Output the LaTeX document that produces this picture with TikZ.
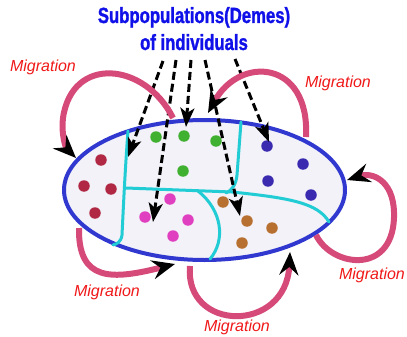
\documentclass[tikz,border=0pt]{standalone}
\usepackage{fontspec}
\setmainfont{Liberation Sans}
\newfontfamily\titlefont[FakeStretch=0.76,FakeBold=1.2]{Liberation Sans Bold}
\usetikzlibrary{arrows.meta}
\definecolor{deme}{HTML}{F2F2F8}
\definecolor{rim}{HTML}{3038D0}
\definecolor{wall}{HTML}{22CCD4}
\definecolor{migr}{HTML}{D64A7A}
\definecolor{migtext}{HTML}{F01818}
\definecolor{titleblue}{HTML}{1010E8}
\definecolor{dred}{HTML}{B02844}
\definecolor{dgreen}{HTML}{40B030}
\definecolor{dblue}{HTML}{3A2AB0}
\definecolor{dpink}{HTML}{E040C0}
\definecolor{dbrown}{HTML}{B87030}
\tikzset{
  dot/.style={circle, fill=#1, draw=none, inner sep=0pt, minimum size=11.5pt},
  wallline/.style={wall, line width=3pt, line cap=round},
  pointer/.style={black, line width=3pt, dash pattern=on 8pt off 4pt,
    -{Stealth[length=19pt,width=14pt,inset=5pt]}},
  migration/.style={migr, line width=6pt,
    -{Stealth[length=23pt,width=19pt,inset=8pt,color=black]}},
  miglabel/.style={text=migtext, font=\itshape\fontsize{16}{19}\selectfont, inner sep=0pt},
  title/.style={text=titleblue, font=\titlefont\fontsize{22}{26}\selectfont, inner sep=0pt, anchor=base}
}
\begin{document}
\begin{tikzpicture}[x=1pt, y=-1pt]
\useasboundingbox (0,0) rectangle (407,337);

% population ellipse
\draw[rim, fill=deme, line width=4pt] (204.5,190) ellipse [x radius=140.5pt, y radius=70pt];

% boundaries between demes
\draw[wallline] (128,131) .. controls (125,170) and (123,215) .. (122,235) .. controls (121,242) and (117,244) .. (113,245);
\draw[wallline] (126,188) -- (232,192) .. controls (290,198) and (318,203) .. (329,222);
\draw[wallline] (241,122) -- (237,175) .. controls (236,185) and (232,190) .. (226,193);
\draw[wallline] (198,191) .. controls (222,210) and (226,240) .. (210,259);

% individuals
\node[dot=dred] (r1) at (101,160) {};
\node[dot=dred] (r2) at (84,186) {};
\node[dot=dred] (r3) at (111,189) {};
\node[dot=dred] (r4) at (95,213) {};
\node[dot=dgreen] (g1) at (156,137) {};
\node[dot=dgreen] (g2) at (184,136) {};
\node[dot=dgreen] (g3) at (216,141) {};
\node[dot=dgreen] (g4) at (183,171) {};
\node[dot=dblue] (b1) at (267,146) {};
\node[dot=dblue] (b2) at (303,164) {};
\node[dot=dblue] (b3) at (268,181) {};
\node[dot=dblue] (b4) at (311,195) {};
\node[dot=dpink] (p1) at (145,217) {};
\node[dot=dpink] (p2) at (170,199) {};
\node[dot=dpink] (p3) at (188,220) {};
\node[dot=dpink] (p4) at (173,236) {};
\node[dot=dbrown] (k1) at (223,202) {};
\node[dot=dbrown] (k2) at (247,221) {};
\node[dot=dbrown] (k3) at (272,228) {};
\node[dot=dbrown] (k4) at (242,243) {};

% heading
\node[title] (head1) at (194,23) {Subpopulations(Demes)};
\node[title] (head2) at (194,50) {of individuals};

% pointers from the heading to the demes
\coordinate (s1) at (163,61);  \coordinate (t1) at (128,157);
\coordinate (s2) at (176,60);  \coordinate (t2) at (153,222);
\coordinate (s3) at (191,60);  \coordinate (t3) at (186,127);
\coordinate (s4) at (205,60);  \coordinate (t4) at (240,216);
\coordinate (s5) at (235,59);  \coordinate (t5) at (269,142);
\draw[pointer] (s1) -- (t1);
\draw[pointer] (s2) -- (t2);
\draw[pointer] (s3) -- (t3);
\draw[pointer] (s4) -- (t4);
\draw[pointer] (s5) -- (t5);

% migration loops
\coordinate (ma) at (173,118); \coordinate (mA) at (76,158);
\coordinate (mb) at (306,137); \coordinate (mB) at (208,113);
\coordinate (mc) at (316,235); \coordinate (mC) at (347,180);
\coordinate (md) at (79,228);  \coordinate (mD) at (175,264);
\coordinate (me) at (190,266); \coordinate (mE) at (290,252);
\draw[migration] (ma) .. controls (145,62) and (72,55) .. (63,118) .. controls (61,135) and (66,148) .. (mA);
\draw[migration] (mb) .. controls (310,60) and (240,55) .. (mB);
\draw[migration] (mc) .. controls (332,268) and (396,276) .. (394,212) .. controls (393,180) and (372,172) .. (mC);
\draw[migration] (md) .. controls (78,282) and (112,280) .. (mD);
\draw[migration] (me) .. controls (184,332) and (286,334) .. (mE);

\node[miglabel] (l1) at (43,67) {Migration};
\node[miglabel] (l2) at (338,83) {Migration};
\node[miglabel] (l3) at (372,275) {Migration};
\node[miglabel] (l4) at (107,292) {Migration};
\node[miglabel] (l5) at (237,327) {Migration};
\end{tikzpicture}
\end{document}
